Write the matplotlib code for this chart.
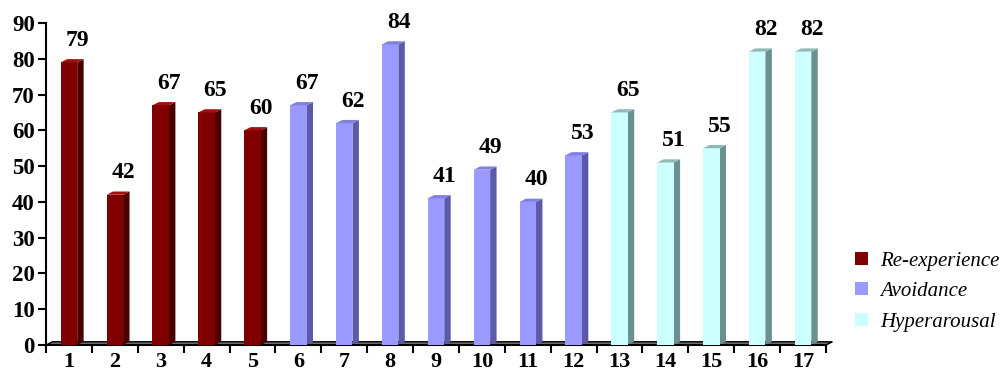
import matplotlib
matplotlib.use("Agg")
import matplotlib.pyplot as plt
from matplotlib.patches import Polygon, Patch
import numpy as np

categories = [str(i) for i in range(1, 18)]
values = [79, 42, 67, 65, 60, 67, 62, 84, 41, 49, 40, 53, 65, 51, 55, 82, 82]
groups = ["Re-experience"] * 5 + ["Avoidance"] * 7 + ["Hyperarousal"] * 5
group_names = ["Re-experience", "Avoidance", "Hyperarousal"]
front_colors = {"Re-experience": "#800000", "Avoidance": "#9999ff", "Hyperarousal": "#ccffff"}
side_colors = {"Re-experience": "#4a0000", "Avoidance": "#5a5aa8", "Hyperarousal": "#6a9090"}
top_colors = {"Re-experience": "#a01010", "Avoidance": "#8080dd", "Hyperarousal": "#8fb8b8"}
yticks = list(range(0, 100, 10))

plt.rcParams['font.family'] = ['Liberation Serif', 'DejaVu Serif']

fig = plt.figure(figsize=(10.08, 3.74), dpi=100)
ax = fig.add_axes([46/1008, 29/374, (826-46)/1008, (345-23)/374])

x = np.arange(1, len(values) + 1)
w = 0.36
dx, dy = 0.14, 0.9

# floor
floor = Polygon([(0.5, 0), (17.5, 0), (17.5 + dx, dy), (0.5 + dx, dy)], closed=True,
                facecolor="#707070", edgecolor="black", lw=1.0, clip_on=False, zorder=1)
ax.add_patch(floor)

for xi, v, g in zip(x, values, groups):
    ax.bar(xi, v, width=w, color=front_colors[g], edgecolor="none", zorder=3)
    l, r = xi - w / 2, xi + w / 2
    side = Polygon([(r, 0), (r + dx, dy), (r + dx, v + dy), (r, v)], closed=True,
                   facecolor=side_colors[g], edgecolor="none", zorder=2, clip_on=False)
    top = Polygon([(l, v), (r, v), (r + dx, v + dy), (l + dx, v + dy)], closed=True,
                  facecolor=top_colors[g], edgecolor="none", zorder=4, clip_on=False)
    ax.add_patch(side)
    ax.add_patch(top)
    ax.text(xi + 0.19, v + dy + 2.3, str(v), ha="center", va="bottom",
            fontsize=17, fontweight="bold", color="black", zorder=5)

ax.set_xlim(0.5, 17.5)
ax.set_ylim(0, 90)
ax.set_yticks(yticks)
ax.set_yticklabels([str(t) for t in yticks], fontsize=16.5, fontweight="bold")
ax.set_xticks(x)
ax.set_xticklabels(categories, fontsize=16, fontweight="bold")
ax.set_xticks(np.arange(0.5, 18.0, 1.0), minor=True)
ax.tick_params(axis="x", which="major", length=0, pad=5)
ax.tick_params(axis="x", which="minor", length=6, width=1.5, direction="out")
ax.tick_params(axis="y", which="major", length=6, width=1.5, direction="out", pad=2)
for s in ["top", "right"]:
    ax.spines[s].set_visible(False)
ax.spines["left"].set_linewidth(1.5)
ax.spines["bottom"].set_linewidth(1.5)

handles = [Patch(facecolor=front_colors[g], edgecolor="none") for g in group_names]
fig.legend(handles, group_names, loc="center left", bbox_to_anchor=(0.83, 0.22),
           frameon=False, prop={"family": "Liberation Serif", "style": "italic", "size": 15},
           handlelength=0.6, handleheight=0.6, handletextpad=0.6, labelspacing=0.55)

fig.savefig("out.png", dpi=100)
